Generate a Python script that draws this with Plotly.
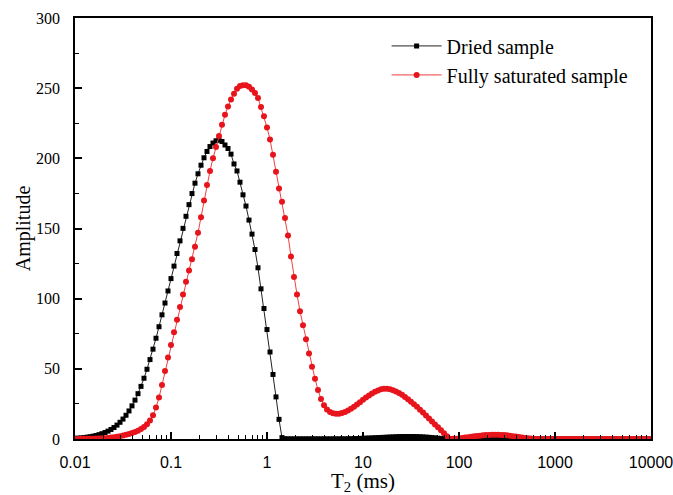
import plotly.graph_objects as go

# T2 relaxation-time grid (ms), 32 points per decade
T2_MS = [
    0.01000, 0.01075, 0.01155, 0.01241, 0.01334, 0.01433, 0.01540, 0.01655, 0.01778, 0.01911, 0.02054, 0.02207, 0.02371, 0.02548, 0.02738, 0.02943,
    0.03162, 0.03398, 0.03652, 0.03924, 0.04217, 0.04532, 0.04870, 0.05233, 0.05623, 0.06043, 0.06494, 0.06978, 0.07499, 0.08058, 0.08660, 0.09306,
    0.1000, 0.1075, 0.1155, 0.1241, 0.1334, 0.1433, 0.1540, 0.1655, 0.1778, 0.1911, 0.2054, 0.2207, 0.2371, 0.2548, 0.2738, 0.2943,
    0.3162, 0.3398, 0.3652, 0.3924, 0.4217, 0.4532, 0.4870, 0.5233, 0.5623, 0.6043, 0.6494, 0.6978, 0.7499, 0.8058, 0.8660, 0.9306,
    1.000, 1.075, 1.155, 1.241, 1.334, 1.433, 1.540, 1.655, 1.778, 1.911, 2.054, 2.207, 2.371, 2.548, 2.738, 2.943,
    3.162, 3.398, 3.652, 3.924, 4.217, 4.532, 4.870, 5.233, 5.623, 6.043, 6.494, 6.978, 7.499, 8.058, 8.660, 9.306,
    10.00, 10.75, 11.55, 12.41, 13.34, 14.33, 15.40, 16.55, 17.78, 19.11, 20.54, 22.07, 23.71, 25.48, 27.38, 29.43,
    31.62, 33.98, 36.52, 39.24, 42.17, 45.32, 48.70, 52.33, 56.23, 60.43, 64.94, 69.78, 74.99, 80.58, 86.60, 93.06,
    100.0, 107.5, 115.5, 124.1, 133.4, 143.3, 154.0, 165.5, 177.8, 191.1, 205.4, 220.7, 237.1, 254.8, 273.8, 294.3,
    316.2, 339.8, 365.2, 392.4, 421.7, 453.2, 487.0, 523.3, 562.3, 604.3, 649.4, 697.8, 749.9, 805.8, 866.0, 930.6,
    1000, 1075, 1155, 1241, 1334, 1433, 1540, 1655, 1778, 1911, 2054, 2207, 2371, 2548, 2738, 2943,
    3162, 3398, 3652, 3924, 4217, 4532, 4870, 5233, 5623, 6043, 6494, 6978, 7499, 8058, 8660, 9306,
    10000,
]

DRIED = [
    0.5, 0.6, 0.8, 1.0, 1.3, 1.6, 2.0, 2.5, 3.1, 3.8, 4.6, 5.6, 6.8, 8.2, 9.9, 11.9,
    14.2, 16.9, 20.0, 23.6, 27.7, 32.3, 37.5, 43.3, 49.7, 56.6, 64.0, 71.8, 80.0, 88.5, 96.9, 105.5,
    114.3, 123.2, 132.2, 141.2, 150.1, 158.7, 167.0, 174.9, 182.3, 189.0, 195.1, 200.4, 204.9, 208.4, 210.9, 212.5,
    213.0, 212.0, 209.5, 207.0, 203.0, 196.0, 191.0, 183.0, 174.0, 166.0, 156.0, 146.0, 135.0, 122.0, 107.0, 93.0,
    78.0, 62.0, 46.0, 30.0, 14.0, 1.0, 0.2, 0.1, 0.1, 0.1, 0.1, 0.1, 0.1, 0.1, 0.1, 0.1,
    0.1, 0.1, 0.1, 0.1, 0.1, 0.1, 0.1, 0.1, 0.1, 0.1, 0.1, 0.15, 0.2, 0.25, 0.3, 0.4,
    0.5, 0.6, 0.7, 0.8, 0.9, 1.0, 1.1, 1.2, 1.3, 1.4, 1.5, 1.6, 1.7, 1.75, 1.8, 1.8,
    1.8, 1.75, 1.7, 1.6, 1.5, 1.35, 1.2, 1.0, 0.8, 0.6, 0.4, 0.25, 0.1, 0.05, 0.0, 0.0,
    0.0, 0.0, 0.0, 0.0, 0.0, 0.0, 0.0, 0.0, 0.0, 0.0, 0.0, 0.0, 0.0, 0.0, 0.0, 0.0,
    0.0, 0.0, 0.0, 0.0, 0.0, 0.0, 0.0, 0.0, 0.0, 0.0, 0.0, 0.0, 0.0, 0.0, 0.0, 0.0,
    0.0, 0.0, 0.0, 0.0, 0.0, 0.0, 0.0, 0.0, 0.0, 0.0, 0.0, 0.0, 0.0, 0.0, 0.0, 0.0,
    0.0, 0.0, 0.0, 0.0, 0.0, 0.0, 0.0, 0.0, 0.0, 0.0, 0.0, 0.0, 0.0, 0.0, 0.0, 0.0,
    0.0,
]

SATURATED = [
    0.05, 0.05, 0.1, 0.1, 0.15, 0.2, 0.25, 0.3, 0.4, 0.5, 0.6, 0.8, 1.0, 1.3, 1.6, 2.0,
    2.5, 3.0, 3.6, 4.3, 5.0, 5.9, 7.1, 8.6, 10.5, 13.2, 17.0, 22.5, 29.5, 38.5, 48.5, 58.0,
    67.0, 76.0, 85.0, 94.0, 103.0, 112.0, 120.0, 128.0, 137.0, 147.0, 158.0, 170.0, 181.0, 191.0, 200.0, 208.0,
    216.0, 224.0, 231.0, 237.0, 242.0, 246.0, 249.5, 251.5, 252.0, 252.0, 251.0, 249.0, 246.5, 243.0, 236.5, 230.0,
    222.0, 213.5, 202.5, 190.5, 178.5, 169.0, 157.5, 145.0, 130.0, 115.5, 103.0, 91.0, 81.0, 71.0, 61.0, 51.5,
    43.0, 35.0, 28.5, 24.0, 21.0, 19.3, 18.3, 18.0, 18.0, 18.5, 19.3, 20.3, 21.5, 22.9, 24.5, 26.2,
    27.9, 29.5, 31.0, 32.4, 33.6, 34.6, 35.4, 35.8, 35.8, 35.4, 34.8, 33.9, 32.8, 31.5, 30.0, 28.3,
    26.6, 24.8, 22.9, 20.9, 18.8, 16.7, 14.6, 12.5, 10.4, 8.3, 6.2, 4.1, 2.0, 0.2, 0.1, 0.2,
    0.4, 0.7, 1.0, 1.3, 1.6, 1.9, 2.2, 2.4, 2.6, 2.8, 2.9, 3.0, 3.0, 3.0, 2.9, 2.8,
    2.6, 2.3, 2.0, 1.7, 1.4, 1.1, 0.8, 0.5, 0.3, 0.1, 0.0, 0.0, 0.0, 0.0, 0.0, 0.0,
    0.0, 0.0, 0.0, 0.0, 0.0, 0.0, 0.0, 0.0, 0.0, 0.0, 0.0, 0.0, 0.0, 0.0, 0.0, 0.0,
    0.0, 0.0, 0.0, 0.0, 0.0, 0.0, 0.0, 0.0, 0.0, 0.0, 0.0, 0.0, 0.0, 0.0, 0.0, 0.0,
    0.0,
]

X_TICKS = [0.01, 0.1, 1, 10, 100, 1000, 10000]
X_TICK_TEXT = ["0.01", "0.1", "1", "10", "100", "1000", "10000"]
Y_TICKS = [0, 50, 100, 150, 200, 250, 300]

SERIF = "Liberation Serif, Times New Roman, serif"
SANS = "Liberation Sans, Arial, sans-serif"

fig = go.Figure()
fig.add_trace(go.Scatter(
    x=T2_MS, y=DRIED, name="Dried sample", mode="lines+markers",
    line=dict(color="#222222", width=1),
    marker=dict(symbol="square", size=5, color="#000000"),
))
fig.add_trace(go.Scatter(
    x=T2_MS, y=SATURATED, name="Fully saturated sample", mode="lines+markers",
    line=dict(color="#f04040", width=1),
    marker=dict(symbol="circle", size=6, color="#e8141c"),
))

fig.update_layout(
    width=673, height=495,
    margin=dict(l=75, r=22, t=18, b=56, autoexpand=False),
    paper_bgcolor="white", plot_bgcolor="white",
    showlegend=True,
    legend=dict(
        x=0.541, y=0.98, xanchor="left", yanchor="top",
        font=dict(family=SERIF, size=20, color="black"),
        bgcolor="rgba(0,0,0,0)", borderwidth=0,
        itemwidth=50, tracegroupgap=0,
    ),
)

fig.update_xaxes(
    type="log", range=[-2, 4.0002],
    tickvals=X_TICKS, ticktext=X_TICK_TEXT,
    ticks="inside", ticklen=7, tickwidth=1.5, tickcolor="black",
    minor=dict(ticks="inside", ticklen=4, tickwidth=1.2, tickcolor="black", dtick="D1", showgrid=False),
    showline=True, linecolor="black", linewidth=1.5, mirror=True,
    showgrid=False, zeroline=False, automargin=False,
    tickfont=dict(family=SANS, size=16, color="black"),
    ticklabelstandoff=8, ticklabeloverflow="allow",
    title=dict(text="T<sub>2</sub> (ms)", font=dict(family=SERIF, size=21, color="black"), standoff=6),
)
fig.update_yaxes(
    range=[0, 300], tickvals=Y_TICKS,
    ticks="inside", ticklen=7, tickwidth=1.5, tickcolor="black",
    minor=dict(ticks="inside", ticklen=4, tickwidth=1.2, tickcolor="black", dtick=25, showgrid=False),
    showline=True, linecolor="black", linewidth=1.5, mirror=True,
    showgrid=False, zeroline=False, automargin=False,
    tickfont=dict(family=SERIF, size=16, color="black"),
    ticklabelstandoff=10,
    title=dict(text="Amplitude", font=dict(family=SERIF, size=20, color="black"), standoff=0),
)

fig.write_html("out.html")
